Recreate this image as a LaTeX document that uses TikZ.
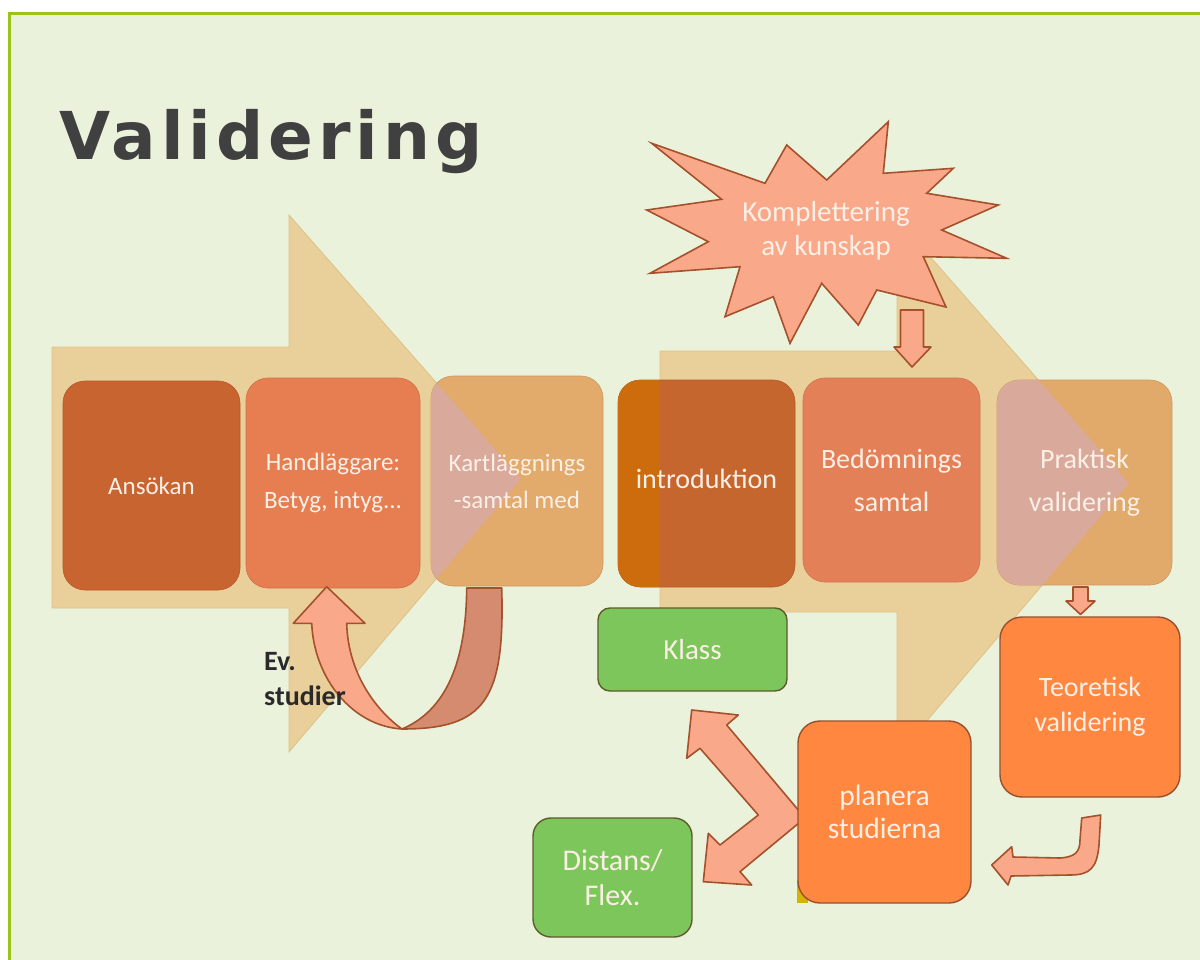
\documentclass[tikz,border=0pt]{standalone}
\usepackage{fontspec}
\setmainfont{Carlito}
\newfontfamily\titlefont{DejaVu Sans}[LetterSpace=7.5]
\definecolor{bg}{HTML}{EBF2DC}
\definecolor{framec}{HTML}{9DC31A}
\definecolor{arrowc}{HTML}{E9CF9A}
\definecolor{arrowe}{HTML}{DEC284}
\definecolor{txt}{HTML}{FCEFE6}
\definecolor{titlec}{HTML}{404040}
\definecolor{cAns}{HTML}{C8642F}
\definecolor{cHand}{HTML}{E67E52}
\definecolor{cKart}{HTML}{E2AA6B}
\definecolor{cPink}{HTML}{D9A99B}
\definecolor{cIntro}{HTML}{C5662F}
\definecolor{cStrip}{HTML}{CC6C0C}
\definecolor{cBed}{HTML}{E48057}
\definecolor{cPrak}{HTML}{E1AA6B}
\definecolor{salmon}{HTML}{F9A98A}
\definecolor{salmone}{HTML}{A4512C}
\definecolor{darkband}{HTML}{D48B70}
\definecolor{greenc}{HTML}{7DC65B}
\definecolor{greene}{HTML}{5E5B2C}
\definecolor{orangec}{HTML}{FF873F}
\definecolor{orangee}{HTML}{96502E}
\definecolor{yellowc}{HTML}{D4B400}
\definecolor{evc}{HTML}{2A2A2A}
\begin{document}
\begin{tikzpicture}[x=1pt,y=-1pt,
  rowbox/.style={rectangle, rounded corners=22pt, inner sep=0pt, align=center,
    text=txt, fill=#1, draw=#1!90!black, line width=0.6pt},
  boxtext/.style={align=center, text=txt, inner sep=0pt},
  greenbox/.style={rectangle, inner sep=0pt, align=center, text=txt,
    fill=greenc, draw=greene, line width=1.4pt},
  orangebox/.style={rectangle, rounded corners=22pt, inner sep=0pt, align=center, text=txt,
    fill=orangec, draw=orangee, line width=1.4pt},
  blockarrow/.style={fill=salmon, draw=salmone, line width=1.6pt, line join=round},
  bigarrow/.style={fill=arrowc, draw=arrowe, line width=0.8pt}
]
\useasboundingbox (0,0) rectangle (1200,960);
\fill[white] (0,0) rectangle (1200,960);
\fill[bg] (9.5,13.5) rectangle (1200,960);
\draw[framec, line width=3pt] (9.5,962) -- (9.5,13.5) -- (1202,13.5);

% title
\node[anchor=base west, text=titlec, inner sep=0pt,
  font=\titlefont\bfseries\fontsize{66}{70}\selectfont] (title) at (59,160) {Validering};

% big arrows
\draw[bigarrow] (52,347) -- (289,347) -- (289,215) -- (521,479) -- (289,752) -- (289,608) -- (52,608) -- cycle;
\draw[bigarrow] (660,351) -- (897,351) -- (897,219) -- (1129,483) -- (897,756) -- (897,612) -- (660,612) -- cycle;

% row boxes
\node[rowbox=cAns, minimum width=177pt, minimum height=209pt,
  font=\fontsize{25}{38}\selectfont] (ans) at (151.5,485.5) {Ansökan};
\node[rowbox=cHand, minimum width=174pt, minimum height=210pt,
  font=\fontsize{25}{38}\selectfont] (hand) at (333,483) {Handläggare:\\Betyg, intyg...};

\node[rowbox=cKart, minimum width=172pt, minimum height=210pt] (kart) at (517,481) {};
\begin{scope}
  \clip[rounded corners=22pt] (431,376) rectangle (603,586);
  \fill[cPink] (289,215) -- (521,479) -- (289,752) -- cycle;
\end{scope}
\node[boxtext, font=\fontsize{25}{37}\selectfont] (kartT) at (kart.center) {Kartläggnings\\-samtal med};

\node[rowbox=cIntro, minimum width=177pt, minimum height=207pt] (intro) at (706.5,483.5) {};
\begin{scope}
  \clip[rounded corners=22pt] (618,380) rectangle (795,587);
  \fill[cStrip] (610,370) rectangle (660,600);
\end{scope}
\node[boxtext, font=\fontsize{28}{40}\selectfont] (introT) at (706.5,479) {introduktion};

\node[rowbox=cBed, minimum width=177pt, minimum height=204pt,
  font=\fontsize{28}{43}\selectfont] (bed) at (891.5,480) {Bedömnings\\samtal};

\node[rowbox=cPrak, minimum width=175pt, minimum height=205pt] (prak) at (1084.5,482.5) {};
\begin{scope}
  \clip[rounded corners=22pt] (997,380) rectangle (1172,585);
  \fill[cPink] (897,219) -- (1129,483) -- (897,756) -- cycle;
\end{scope}
\node[boxtext, font=\fontsize{28}{43}\selectfont] (prakT) at (prak.center) {Praktisk\\validering};

% starburst
\draw[blockarrow, line join=miter] (651.7,143.3) -- (765,183.3) -- (786.7,145) -- (826.7,180) -- (888.3,121.7)
  -- (883.3,173.3) -- (953.3,168.3) -- (926.7,193.3) -- (998.3,205) -- (941.7,230)
  -- (1006.7,258.3) -- (923.3,256.7) -- (946,307) -- (876.7,290) -- (858.3,325)
  -- (821.7,283.3) -- (790,343.3) -- (773.3,296.7) -- (725,316.7) -- (740,266.7)
  -- (650,273.3) -- (708.3,241.7) -- (646.7,210) -- (721.7,199.3) -- cycle;
\node[boxtext, font=\fontsize{29}{34}\selectfont] (komp) at (826,231) {Komplettering\\av kunskap};

% small down arrows
\draw[blockarrow] (900.5,310) -- (923.5,310) -- (923.5,347) -- (931,347) -- (912,367)
  -- (894,347) -- (900.5,347) -- cycle;
\draw[blockarrow] (1073,587) -- (1088,587) -- (1088,601) -- (1095,601) -- (1080.5,614.5)
  -- (1066,601) -- (1073,601) -- cycle;

% U-turn arrow
\draw[blockarrow, fill=darkband] (466.7,588) -- (501.7,588) .. controls (505,700) and (485,729) .. (402,729)
  .. controls (435,715) and (466,680) .. (466.7,588) -- cycle;
\draw[blockarrow] (311.7,623.3) .. controls (314,678) and (352,726) .. (402,729)
  .. controls (378,712) and (348,675) .. (346.7,623.3) -- (365,623.3) -- (326.7,586.7)
  -- (293.3,623.3) -- cycle;
\node[anchor=base west, inner sep=0pt, text=evc, font=\bfseries\fontsize{28}{30}\selectfont] (ev1) at (264,670) {Ev.};
\node[anchor=base west, inner sep=0pt, text=evc, font=\bfseries\fontsize{28}{30}\selectfont] (ev2) at (264,705) {studier};

% lower boxes
\node[greenbox, rounded corners=12pt, minimum width=189pt, minimum height=83pt,
  font=\fontsize{29}{35}\selectfont] (klass) at (692.5,649.5) {Klass};
\node[orangebox, minimum width=180pt, minimum height=180pt,
  font=\fontsize{28}{35}\selectfont] (teo) at (1090,707) {Teoretisk\\validering};

\draw[blockarrow] (691.7,710) -- (738.3,715) -- (726.7,725) -- (805,818) -- (740,871.7)
  -- (751.7,885) -- (703.3,881.7) -- (708.3,833.3) -- (720,845) -- (758.3,815)
  -- (700,748.3) -- (686.7,758.3) -- cycle;

\fill[yellowc] (797,880) rectangle (808,903);
\node[orangebox, minimum width=173pt, minimum height=182pt,
  font=\fontsize{29.5}{33}\selectfont] (plan) at (884.5,812) {planera\\studierna};
\node[greenbox, rounded corners=18pt, minimum width=159pt, minimum height=119pt,
  font=\fontsize{30}{35}\selectfont] (dist) at (612.5,877.5) {Distans/\\Flex.};

% J arrow
\draw[blockarrow] (1081.7,818) -- (1100.7,815) -- (1099,845) .. controls (1097,868) and (1090,875) .. (1070,875)
  -- (1011,876) -- (1008,885) -- (991.7,865) -- (1011.7,846.7) -- (1013,857) -- (1060,858)
  .. controls (1075,857) and (1080,852) .. (1080,840) -- cycle;
\end{tikzpicture}
\end{document}
